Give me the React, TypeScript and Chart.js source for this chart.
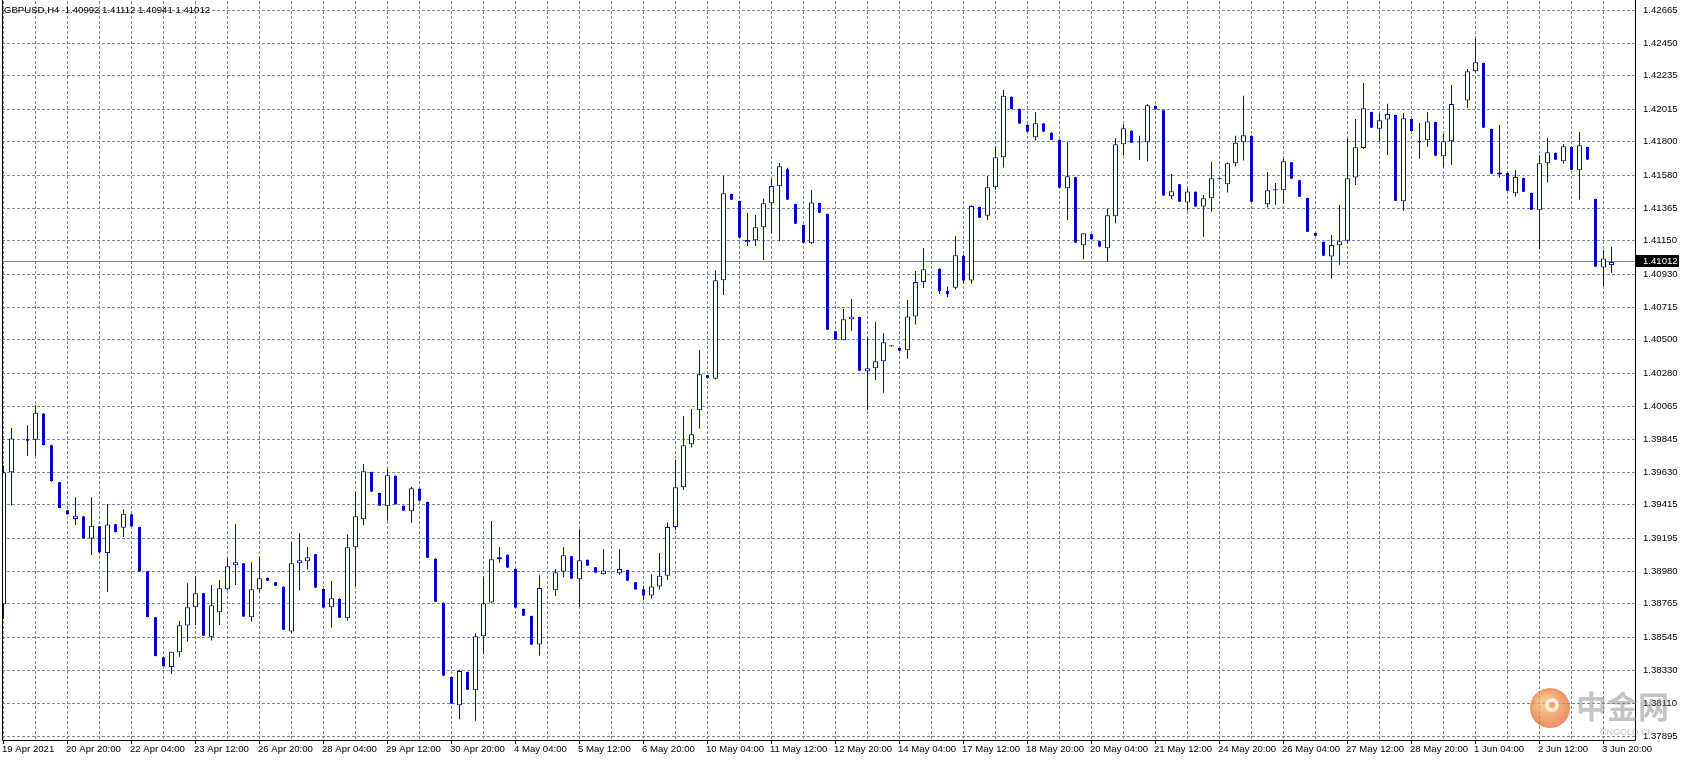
import { useEffect, useRef } from 'react';
import { Chart, registerables } from 'chart.js';

Chart.register(...registerables);

const symbolHeader = 'GBPUSD,H4  1.40992 1.41112 1.40941 1.41012';
const currentPrice = 1.41012;
const currentPriceLabel = '1.41012';

const timeLabels = [
  '19 Apr 2021', '20 Apr 20:00', '22 Apr 04:00', '23 Apr 12:00', '26 Apr 20:00', '28 Apr 04:00',
  '29 Apr 12:00', '30 Apr 20:00', '4 May 04:00', '5 May 12:00', '6 May 20:00', '10 May 04:00',
  '11 May 12:00', '12 May 20:00', '14 May 04:00', '17 May 12:00', '18 May 20:00', '20 May 04:00',
  '21 May 12:00', '24 May 20:00', '26 May 04:00', '27 May 12:00', '28 May 20:00', '1 Jun 04:00',
  '2 Jun 12:00', '3 Jun 20:00',
];

const priceLabels = [
  '1.42665', '1.42450', '1.42235', '1.42015', '1.41800', '1.41580', '1.41365', '1.41150',
  '1.40930', '1.40715', '1.40500', '1.40280', '1.40065', '1.39845', '1.39630', '1.39415',
  '1.39195', '1.38980', '1.38765', '1.38545', '1.38330', '1.38110', '1.37895',
];

const opens: (number | null)[] = [
  1.38762, 1.39630, null, 1.39848, 1.39844, 1.40015, 1.39807, 1.39564, 1.39380, 1.39323,
  1.39340, 1.39194, 1.39275, 1.39099, 1.39288, 1.39266, 1.39353, 1.39270, 1.38979, 1.38677,
  1.38414, 1.38350, 1.38447, 1.38623, 1.38743, 1.38835, 1.38550, 1.38710, 1.38861, 1.39019,
  1.39032, 1.38677, 1.38861, 1.38936, 1.38907, 1.38877, 1.38583, 1.39032, 1.39045, 1.39091,
  1.38863, 1.38743, 1.38798, 1.38671, 1.39137, 1.39321, 1.39632, 1.39494, 1.39407, 1.39606,
  1.39409, 1.39374, 1.39521, 1.39435, 1.39061, 1.38772, 1.38285, 1.38099, 1.38318, 1.38198,
  1.38553, 1.38774, 1.39058, 1.39087, 1.38995, 1.38732, 1.38686, 1.38498, null, 1.38855,
  1.38977, 1.39078, 1.38927, 1.39054, 1.39006, 1.38960, null, 1.38966, 1.38988, 1.38907,
  1.38861, 1.38820, 1.38880, 1.38950, 1.39270, 1.39531, 1.39814, 1.40037, 1.40267, 1.40245,
  1.40891, 1.41458, 1.41412, 1.41141, 1.41154, 1.41239, 1.41397, 1.41509, 1.41620, 1.41392,
  1.41254, 1.41134, 1.41399, 1.41327, 1.40556, 1.40497, 1.40635, 1.40650, 1.40293, 1.40313,
  1.40359, 1.40458, 1.40446, 1.40431, 1.40654, 1.40880, null, 1.40966, 1.40820, 1.40842,
  1.41051, 1.40890, 1.41373, 1.41316, 1.41503, 1.41700, 1.42096, 1.42017, 1.41912, 1.41831,
  1.41921, 1.41860, 1.41814, 1.41496, 1.41568, 1.41121, 1.41194, 1.41148, 1.41102, 1.41312,
  1.41785, 1.41873, 1.41796, 1.41798, 1.42037, 1.42008, 1.41443, 1.41522, 1.41402, 1.41472,
  1.41376, 1.41430, 1.41555, 1.41522, 1.41660, 1.41798, 1.41840, null, 1.41390, 1.41482,
  1.41482, 1.41666, 1.41548, 1.41432, 1.41202, 1.41143, 1.41048, 1.41121, 1.41151, 1.41567,
  1.41760, 1.41997, 1.41887, 1.41948, 1.41977, 1.41410, 1.41951, 1.41806, 1.41811, 1.41931,
  1.41706, 1.41804, null, 1.42073, 1.42264, 1.42319, 1.41885, 1.41587, 1.41596, 1.41463,
  1.41563, 1.41465, 1.41351, 1.41660, 1.41728, 1.41673, 1.41767, 1.41614, 1.41767, 1.41425,
  1.40976, 1.40992,
];

const highs: (number | null)[] = [
  1.39675, 1.39921, null, 1.39938, 1.40070, 1.40018, 1.39810, 1.39566, 1.39382, 1.39465,
  1.39342, 1.39465, 1.39277, 1.39419, 1.39290, 1.39386, 1.39355, 1.39272, 1.38981, 1.38679,
  1.38416, 1.38451, 1.38653, 1.38901, 1.38949, 1.38837, 1.38890, 1.38923, 1.39065, 1.39291,
  1.39034, 1.39039, 1.39074, 1.38938, 1.38909, 1.38879, 1.39170, 1.39229, 1.39139, 1.39093,
  1.38865, 1.38916, 1.38800, 1.39223, 1.39501, 1.39685, 1.39634, 1.39496, 1.39652, 1.39608,
  1.39411, 1.39534, 1.39523, 1.39437, 1.39063, 1.38774, 1.38287, 1.38329, 1.38320, 1.38574,
  1.38942, 1.39310, 1.39139, 1.39089, 1.38997, 1.38734, 1.38688, 1.38953, null, 1.38995,
  1.39137, 1.39080, 1.39255, 1.39056, 1.39008, 1.39124, null, 1.39124, 1.38990, 1.38909,
  1.38885, 1.38960, 1.39100, 1.39300, 1.39711, 1.40000, 1.40046, 1.40433, 1.40269, 1.40957,
  1.41577, 1.41460, 1.41414, 1.41334, 1.41320, 1.41428, 1.41560, 1.41662, 1.41630, 1.41394,
  1.41256, 1.41484, 1.41401, 1.41329, 1.40558, 1.40705, 1.40768, 1.40652, 1.40519, 1.40617,
  1.40543, 1.40460, 1.40448, 1.40762, 1.40953, 1.41104, null, 1.40968, 1.40850, 1.41183,
  1.41060, 1.41384, 1.41375, 1.41577, 1.41770, 1.42142, 1.42098, 1.42019, 1.41914, 1.41997,
  1.41923, 1.41862, 1.41816, 1.41798, 1.41570, 1.41200, 1.41196, 1.41150, 1.41360, 1.41824,
  1.41916, 1.41875, 1.41840, 1.42050, 1.42039, 1.42010, 1.41590, 1.41524, 1.41496, 1.41474,
  1.41452, 1.41669, 1.41557, 1.41665, 1.41840, 1.42103, 1.41842, null, 1.41602, 1.41530,
  1.41692, 1.41668, 1.41550, 1.41434, 1.41204, 1.41145, 1.41189, 1.41386, 1.41826, 1.41951,
  1.42187, 1.41999, 1.41988, 1.42051, 1.41979, 1.41988, 1.41953, 1.41924, 1.41997, 1.41933,
  1.41852, 1.42174, null, 1.42279, 1.42479, 1.42321, 1.41887, 1.41911, 1.41598, 1.41616,
  1.41565, 1.41467, 1.41714, 1.41826, 1.41730, 1.41787, 1.41769, 1.41865, 1.41769, 1.41427,
  1.41090, 1.41112,
];

const lows: (number | null)[] = [
  1.38668, 1.39413, null, 1.39737, 1.39737, 1.39805, 1.39570, 1.39393, 1.39352, 1.39283,
  1.39194, 1.39086, 1.39102, 1.38843, 1.39235, 1.39205, 1.39273, 1.38977, 1.38677, 1.38421,
  1.38353, 1.38304, 1.38418, 1.38517, 1.38627, 1.38555, 1.38524, 1.38627, 1.38855, 1.38890,
  1.38680, 1.38649, 1.38842, 1.38916, 1.38883, 1.38594, 1.38572, 1.38853, 1.38991, 1.38870,
  1.38739, 1.38610, 1.38673, 1.38655, 1.38879, 1.39282, 1.39501, 1.39409, 1.39312, 1.39418,
  1.39376, 1.39299, 1.39442, 1.39067, 1.38778, 1.38292, 1.38108, 1.38007, 1.38200, 1.37998,
  1.38436, 1.38770, 1.39037, 1.39002, 1.38739, 1.38686, 1.38496, 1.38425, null, 1.38815,
  1.38938, 1.38929, 1.38747, 1.39015, 1.38969, 1.38958, null, 1.38955, 1.38916, 1.38859,
  1.38790, 1.38800, 1.38860, 1.38920, 1.39250, 1.39514, 1.39792, 1.39917, 1.40248, 1.40239,
  1.40795, 1.41419, 1.41170, 1.41117, 1.41117, 1.41025, 1.41200, 1.41149, 1.41419, 1.41261,
  1.41136, 1.41130, 1.41334, 1.40565, 1.40499, 1.40497, 1.40560, 1.40296, 1.40039, 1.40236,
  1.40153, 1.40455, 1.40427, 1.40376, 1.40600, 1.40840, null, 1.40800, 1.40780, 1.40830,
  1.40870, 1.40870, 1.41301, 1.41288, 1.41485, 1.41632, 1.42015, 1.41919, 1.41866, 1.41809,
  1.41866, 1.41812, 1.41498, 1.41288, 1.41137, 1.41030, 1.41159, 1.41111, 1.41014, 1.41266,
  1.41711, 1.41794, 1.41682, 1.41671, 1.42013, 1.41446, 1.41426, 1.41406, 1.41349, 1.41374,
  1.41178, 1.41343, 1.41553, 1.41468, 1.41638, 1.41678, 1.41406, null, 1.41370, 1.41388,
  1.41394, 1.41557, 1.41438, 1.41208, 1.41182, 1.41051, 1.40902, 1.40994, 1.41134, 1.41517,
  1.41754, 1.41892, 1.41804, 1.41714, 1.41412, 1.41348, 1.41870, 1.41690, 1.41769, 1.41708,
  1.41633, 1.41651, null, 1.42023, 1.42257, 1.41892, 1.41590, 1.41565, 1.41478, 1.41441,
  1.41471, 1.41353, 1.41097, 1.41533, 1.41682, 1.41657, 1.41616, 1.41421, 1.41682, 1.40979,
  1.40854, 1.40941,
];

const closes: (number | null)[] = [
  1.39630, 1.39851, null, 1.39838, 1.40021, 1.39809, 1.39572, 1.39395, 1.39354, 1.39345,
  1.39196, 1.39279, 1.39104, 1.39286, 1.39237, 1.39358, 1.39275, 1.38979, 1.38679, 1.38423,
  1.38355, 1.38451, 1.38624, 1.38743, 1.38835, 1.38557, 1.38756, 1.38868, 1.39012, 1.39039,
  1.38682, 1.38861, 1.38934, 1.38918, 1.38885, 1.38596, 1.39032, 1.39052, 1.39072, 1.38872,
  1.38741, 1.38802, 1.38675, 1.39137, 1.39341, 1.39637, 1.39503, 1.39411, 1.39610, 1.39420,
  1.39378, 1.39525, 1.39444, 1.39069, 1.38780, 1.38294, 1.38110, 1.38325, 1.38202, 1.38553,
  1.38769, 1.39058, 1.39072, 1.39004, 1.38741, 1.38688, 1.38498, 1.38870, null, 1.38973,
  1.39085, 1.38931, 1.39052, 1.39017, 1.38971, 1.38984, null, 1.38995, 1.38918, 1.38861,
  1.38820, 1.38880, 1.38950, 1.39270, 1.39531, 1.39807, 1.39879, 1.40274, 1.40250, 1.40891,
  1.41463, 1.41421, 1.41172, 1.41156, 1.41239, 1.41397, 1.41511, 1.41640, 1.41421, 1.41263,
  1.41138, 1.41403, 1.41336, 1.40567, 1.40501, 1.40635, 1.40654, 1.40298, 1.40313, 1.40359,
  1.40484, 1.40458, 1.40429, 1.40654, 1.40880, 1.40964, null, 1.40820, 1.40800, 1.41056,
  1.40890, 1.41379, 1.41303, 1.41503, 1.41700, 1.42103, 1.42017, 1.41921, 1.41868, 1.41923,
  1.41868, 1.41814, 1.41500, 1.41575, 1.41139, 1.41200, 1.41161, 1.41113, 1.41319, 1.41785,
  1.41890, 1.41796, 1.41796, 1.42041, 1.42015, 1.41448, 1.41476, 1.41408, 1.41474, 1.41376,
  1.41430, 1.41562, 1.41555, 1.41660, 1.41794, 1.41844, 1.41408, null, 1.41482, 1.41482,
  1.41673, 1.41559, 1.41440, 1.41210, 1.41184, 1.41053, 1.41123, 1.41147, 1.41561, 1.41765,
  1.42021, 1.41894, 1.41942, 1.41984, 1.41414, 1.41955, 1.41872, 1.41798, 1.41935, 1.41710,
  1.41804, 1.42049, null, 1.42264, 1.42323, 1.41894, 1.41592, 1.41600, 1.41480, 1.41570,
  1.41473, 1.41355, 1.41660, 1.41732, 1.41684, 1.41771, 1.41618, 1.41778, 1.41684, 1.40981,
  1.41035, 1.41012,
];

const BLUE = '#0000CD';
const GRID = '#778899';
const FONT = '9.6px "Liberation Sans", Arial, sans-serif';
const BARS_PER_GRID = 4;
const BARS_PER_LABEL = 8;

export default function App() {
  const ref = useRef<HTMLCanvasElement>(null);

  useEffect(() => {
    const canvas = ref.current;
    if (!canvas) return;

    const idx = opens.map((_, i) => i).filter((i) => opens[i] !== null);
    const wickData = idx.map((i) => ({ x: i, y: [lows[i] as number, highs[i] as number] }));
    const bullData = idx
      .filter((i) => (closes[i] as number) >= (opens[i] as number))
      .map((i) => ({ x: i, y: [opens[i] as number, closes[i] as number] }));
    const bearData = idx
      .filter((i) => (closes[i] as number) < (opens[i] as number))
      .map((i) => ({ x: i, y: [opens[i] as number, closes[i] as number] }));

    const mt4Plugin = {
      id: 'mt4Frame',
      beforeDraw(chart: any) {
        const ctx = chart.ctx;
        ctx.save();
        ctx.fillStyle = '#ffffff';
        ctx.fillRect(0, 0, chart.width, chart.height);
        ctx.restore();
      },
      beforeDatasetsDraw(chart: any) {
        const { ctx, chartArea: a, scales } = chart;
        const xs = scales.x;
        const ys = scales.y;
        ctx.save();
        ctx.beginPath();
        ctx.rect(a.left, a.top, a.right - a.left, a.bottom - a.top);
        ctx.clip();
        ctx.strokeStyle = GRID;
        ctx.lineWidth = 1;
        ctx.setLineDash([3, 2]);
        for (let n = 0; n < opens.length; n += BARS_PER_GRID) {
          const x = Math.floor(xs.getPixelForValue(n)) + 0.5;
          ctx.beginPath();
          ctx.moveTo(x, a.top);
          ctx.lineTo(x, a.bottom);
          ctx.stroke();
        }
        for (const p of priceLabels) {
          const y = Math.floor(ys.getPixelForValue(parseFloat(p))) + 0.5;
          ctx.beginPath();
          ctx.moveTo(a.left, y);
          ctx.lineTo(a.right, y);
          ctx.stroke();
        }
        ctx.setLineDash([]);
        const py = Math.floor(ys.getPixelForValue(currentPrice)) + 0.5;
        ctx.beginPath();
        ctx.moveTo(a.left, py);
        ctx.lineTo(a.right, py);
        ctx.stroke();
        ctx.restore();
      },
      afterDatasetsDraw(chart: any) {
        const { ctx, chartArea: a, scales } = chart;
        const xs = scales.x;
        const ys = scales.y;
        ctx.save();
        ctx.strokeStyle = '#000000';
        ctx.lineWidth = 1;
        ctx.beginPath();
        ctx.moveTo(a.left + 0.5, 0);
        ctx.lineTo(a.left + 0.5, a.bottom + 0.5);
        ctx.lineTo(a.right + 0.5, a.bottom + 0.5);
        ctx.lineTo(a.right + 0.5, 0);
        ctx.stroke();

        ctx.font = FONT;
        ctx.fillStyle = '#000000';
        ctx.textBaseline = 'middle';
        ctx.textAlign = 'left';
        for (const p of priceLabels) {
          const y = Math.floor(ys.getPixelForValue(parseFloat(p))) + 0.5;
          ctx.fillText(p, a.right + 8, y);
        }
        timeLabels.forEach((t, i) => {
          const x = Math.floor(xs.getPixelForValue(i * BARS_PER_LABEL));
          ctx.beginPath();
          ctx.moveTo(x + 0.5, a.bottom + 1);
          ctx.lineTo(x + 0.5, a.bottom + 4);
          ctx.stroke();
          ctx.fillText(t, x - 1, a.bottom + 9);
        });
        const py = Math.floor(ys.getPixelForValue(currentPrice));
        ctx.fillStyle = '#000000';
        ctx.fillRect(a.right + 1, py - 6, 43, 12);
        ctx.fillStyle = '#ffffff';
        ctx.fillText(currentPriceLabel, a.right + 8, py + 0.5);
        ctx.fillStyle = '#000000';
        ctx.fillText(symbolHeader, a.left + 2, 10);

        ctx.globalAlpha = 0.75;
        const cx = 1550;
        const cy = 708;
        const grad = ctx.createRadialGradient(cx - 6, cy - 6, 4, cx, cy, 21);
        grad.addColorStop(0, '#f7b267');
        grad.addColorStop(1, '#e8692f');
        ctx.fillStyle = grad;
        ctx.beginPath();
        ctx.arc(cx, cy, 20, 0, Math.PI * 2);
        ctx.fill();
        ctx.fillStyle = '#ffffff';
        ctx.beginPath();
        ctx.arc(cx + 2, cy - 3, 7, 0, Math.PI * 2);
        ctx.fill();
        ctx.fillStyle = '#ef8a3a';
        ctx.beginPath();
        ctx.arc(cx + 2, cy - 3, 3, 0, Math.PI * 2);
        ctx.fill();
        ctx.globalAlpha = 0.5;
        ctx.fillStyle = '#8a8a8a';
        ctx.font = 'bold 31px "Noto Sans CJK SC", sans-serif';
        ctx.textBaseline = 'middle';
        ctx.fillText('中金网', 1576, 706);
        ctx.font = '9px "Liberation Sans", Arial, sans-serif';
        ctx.fillText('CNGOLD.CN', 1600, 733);
        ctx.restore();
      },
    };

    const chart = new Chart(canvas, {
      type: 'bar',
      data: {
        datasets: [
          {
            label: 'bear',
            data: bearData as any,
            backgroundColor: BLUE,
            borderWidth: 0,
            barThickness: 3,
            grouped: false,
            borderSkipped: false,
            inflateAmount: 0,
            minBarLength: 1,
          } as any,
          {
            label: 'bull',
            data: bullData as any,
            backgroundColor: '#ffffff',
            borderColor: BLUE,
            borderWidth: 1,
            barThickness: 5,
            grouped: false,
            borderSkipped: false,
            inflateAmount: 0,
            minBarLength: 1,
          } as any,
          {
            label: 'wick',
            data: wickData as any,
            backgroundColor: BLUE,
            borderWidth: 0,
            barThickness: 1,
            grouped: false,
            borderSkipped: false,
            inflateAmount: 0,
            minBarLength: 1,
          } as any,
        ],
      },
      options: {
        animation: false,
        responsive: false,
        devicePixelRatio: 1,
        events: [],
        layout: { padding: { left: 2, top: 1, right: 48, bottom: 20 } },
        plugins: { legend: { display: false }, tooltip: { enabled: false }, title: { display: false } },
        scales: {
          x: {
            type: 'linear',
            display: false,
            min: -0.1875,
            max: 203.9375,
            offset: false,
            grid: { offset: false },
          },
          y: {
            type: 'linear',
            display: false,
            min: 1.378709,
            max: 1.427261,
            beginAtZero: false,
          },
        },
      } as any,
      plugins: [mt4Plugin],
    });

    return () => chart.destroy();
  }, []);

  return (
    <div style={{ position: 'fixed', left: 0, top: 0, width: 1683, height: 760, background: '#ffffff' }}>
      <canvas ref={ref} width={1683} height={760} style={{ display: 'block', width: 1683, height: 760 }} />
    </div>
  );
}
